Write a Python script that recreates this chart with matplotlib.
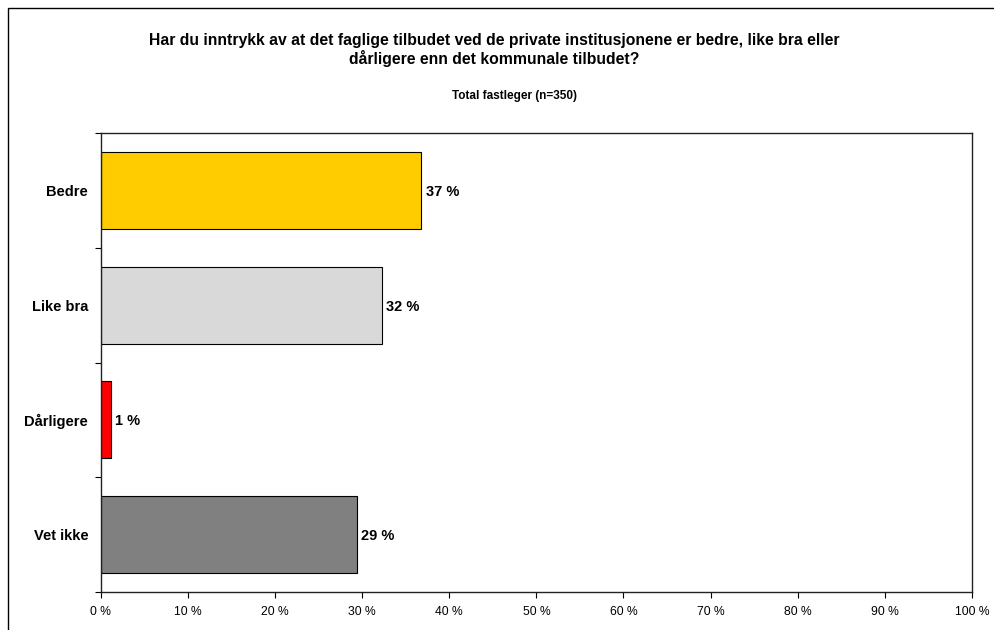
import matplotlib
matplotlib.use("Agg")
import matplotlib.pyplot as plt
from matplotlib.patches import Rectangle
from matplotlib.ticker import FixedLocator, NullFormatter

plt.rcParams['font.family'] = ['Liberation Sans', 'DejaVu Sans']

categories = ["Bedre", "Like bra", "Dårligere", "Vet ikke"]
values = [36.8, 32.3, 1.2, 29.4]
labels = ["37 %", "32 %", "1 %", "29 %"]
colors = ["#FFCC00", "#D9D9D9", "#FF0000", "#808080"]
xticks = list(range(0, 101, 10))
xtick_labels = [f"{t} %" for t in xticks]

title = ("Har du inntrykk av at det faglige tilbudet ved de private institusjonene er bedre, like bra eller\n"
         "dårligere enn det kommunale tilbudet?")
subtitle = "Total fastleger (n=350)"

W, H = 994, 630
fig = plt.figure(figsize=(W / 100, H / 100), dpi=100)
fig.patch.set_facecolor("white")

# outer frame around the chart object
fig.add_artist(Rectangle((8 / W, -0.1), 1.2, 1.1 - 8 / H, transform=fig.transFigure,
                         fill=False, edgecolor="black", linewidth=1.0))

left, right = 100.7 / W, 972 / W
top, bottom = 1 - 133 / H, 1 - 592 / H
ax = fig.add_axes([left, bottom, right - left, top - bottom])

n = len(categories)
ypos = list(range(n))
ax.barh(ypos, values, height=0.67, color=colors, edgecolor="black", linewidth=0.8)
ax.set_ylim(n - 0.5, -0.5)
ax.set_xlim(0, 100)

for y, v, lab in zip(ypos, values, labels):
    ax.annotate(lab, (v, y), xytext=(3, 0), textcoords="offset points",
                va="center_baseline", ha="left", fontsize=10.5, fontweight="bold")

ax.set_yticks(ypos)
ax.set_yticklabels(categories, fontsize=10.5, fontweight="bold")
ax.tick_params(axis="y", which="major", length=0, pad=9)
ax.yaxis.set_minor_locator(FixedLocator([i - 0.5 for i in range(n + 1)]))
ax.yaxis.set_minor_formatter(NullFormatter())
ax.tick_params(axis="y", which="minor", length=4, width=0.8, direction="out")

ax.set_xticks(xticks)
ax.set_xticklabels(xtick_labels, fontsize=8.7)
ax.tick_params(axis="x", length=4, width=0.8, direction="out", pad=6)

for s in ax.spines.values():
    s.set_linewidth(1.0)
    s.set_color("#222222")

fig.text(494.5 / W, 1 - 50 / H, title, ha="center", va="center", fontsize=11.3,
         fontweight="bold", linespacing=1.15)
fig.text(515 / W, 1 - 96 / H, subtitle, ha="center", va="center", fontsize=8.5,
         fontweight="bold")

fig.savefig("out.png", dpi=100, facecolor="white")
